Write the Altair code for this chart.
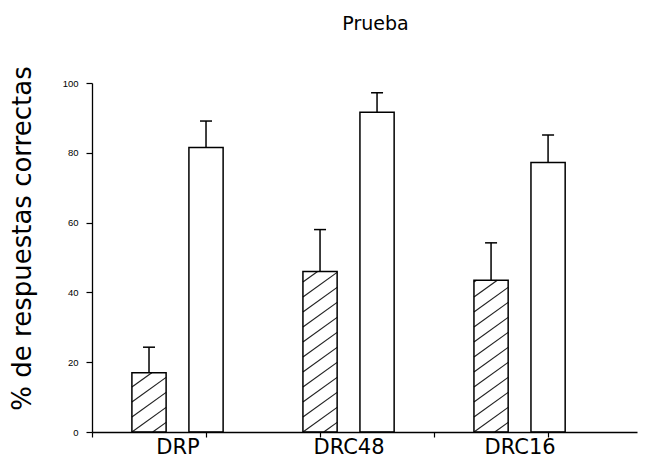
import json
import altair as alt
import pandas as pd

# ---- data ----
categories = ["DRP", "DRC48", "DRC16"]
hatched_mean = [17.0, 46.0, 43.5]
hatched_err = [7.3, 12.0, 10.7]
open_mean = [81.5, 91.6, 77.2]
open_err = [7.6, 5.6, 7.9]
y_ticks = [0, 20, 40, 60, 80, 100]
x_ticks = [0, 1, 2, 3, 4]

# ---- layout ----
W, H = 545, 349
XMAX, YMAX = 4.78, 100
GROUP0, GROUP_STEP = 0.75, 1.5
OFFSET, HALF = 0.25, 0.15

rows = []
for i, c in enumerate(categories):
    g = GROUP0 + GROUP_STEP * i
    for kind, m, e, off in (("hatched", hatched_mean[i], hatched_err[i], -OFFSET),
                            ("open", open_mean[i], open_err[i], OFFSET)):
        cx = g + off
        rows.append(dict(cat=c, kind=kind, cx=cx, x0=cx - HALF, x1=cx + HALF,
                         base=0, mean=m, top=m + e))
bars = pd.DataFrame(rows)

# hatch segments (diagonal "/" lines clipped to each hatched bar)
pxx, pxy = W / XMAX, H / YMAX
slope, spacing = 0.72, 15.0
hatch = []
for r in bars[bars.kind == "hatched"].itertuples():
    w = (r.x1 - r.x0) * pxx
    h = r.mean * pxy
    k = -int(slope * w / spacing) - 1
    while k * spacing <= h:
        c = k * spacing
        xa = max(0.0, -c / slope)
        xb = min(w, (h - c) / slope)
        if xb > xa:
            hatch.append(dict(hx0=r.x0 + xa / pxx, hx1=r.x0 + xb / pxx,
                              hy0=(c + slope * xa) / pxy, hy1=(c + slope * xb) / pxy))
        k += 1
hatch = pd.DataFrame(hatch)

xscale = alt.Scale(domain=[0, XMAX], nice=False, zero=False)
yscale = alt.Scale(domain=[0, YMAX], nice=False)
yaxis = alt.Axis(values=y_ticks, title="% de respuestas correctas", grid=False,
                 domainColor="black", domainWidth=1.3, tickColor="black", tickWidth=1.2,
                 tickSize=6, labelPadding=8, labelFontSize=9.5, labelFont="Liberation Sans",
                 labelColor="black", titleFont="DejaVu Sans", titleFontSize=26,
                 titleFontWeight="normal", titleColor="black", titleX=-62, titleY=155,
                 titleBaseline="alphabetic", titleAlign="center")
tick_axis = alt.Axis(orient="bottom", values=x_ticks, labels=False, title=None, grid=False,
                     domainColor="black", domainWidth=1.3, tickColor="black",
                     tickWidth=1.2, tickSize=5)
label_axis = alt.Axis(orient="bottom", values=[GROUP0 + GROUP_STEP * i for i in range(len(categories))],
                      labelExpr=f"{json.dumps(categories)}[round((datum.value - {GROUP0}) / {GROUP_STEP})]",
                      ticks=False, tickSize=0, domain=False, grid=False, title=None,
                      labelPadding=21, labelBaseline="alphabetic", labelFont="DejaVu Sans",
                      labelFontSize=21, labelColor="black", labelAngle=0)

hatch_layer = alt.Chart(hatch).mark_rule(color="#222", strokeWidth=1.2).encode(
    x=alt.X("hx0:Q", scale=xscale, axis=None), x2="hx1",
    y=alt.Y("hy0:Q", scale=yscale, axis=yaxis), y2="hy1")

bar_layer = alt.Chart(bars).mark_rect(fill="white", fillOpacity=0, stroke="black",
                                      strokeWidth=1.5).encode(
    x=alt.X("x0:Q", scale=xscale, axis=tick_axis), x2="x1",
    y=alt.Y("base:Q", scale=yscale, axis=yaxis), y2="mean")

err_layer = alt.Chart(bars).mark_rule(color="black", strokeWidth=1.5).encode(
    x=alt.X("cx:Q", scale=xscale, axis=label_axis),
    y=alt.Y("mean:Q", scale=yscale, axis=yaxis), y2="top")

cap_layer = alt.Chart(bars).mark_tick(orient="horizontal", size=12, thickness=1.5,
                                      color="black", opacity=1).encode(
    x=alt.X("cx:Q", scale=xscale, axis=None),
    y=alt.Y("top:Q", scale=yscale, axis=yaxis))

chart = alt.layer(hatch_layer, bar_layer, err_layer, cap_layer).resolve_axis(
    x="independent").properties(
    width=W, height=H, autosize="none",
    padding={"left": 84, "top": 75, "right": 12, "bottom": 28},
    title=alt.TitleParams("Prueba", font="DejaVu Sans", fontSize=19, fontWeight="normal",
                          color="black", anchor="middle", frame="group", offset=17,
                          dx=11, baseline="alphabetic"),
    background="white",
).configure_view(strokeWidth=0)

chart.save("out.html", embed_options={"renderer": "svg", "actions": False})
